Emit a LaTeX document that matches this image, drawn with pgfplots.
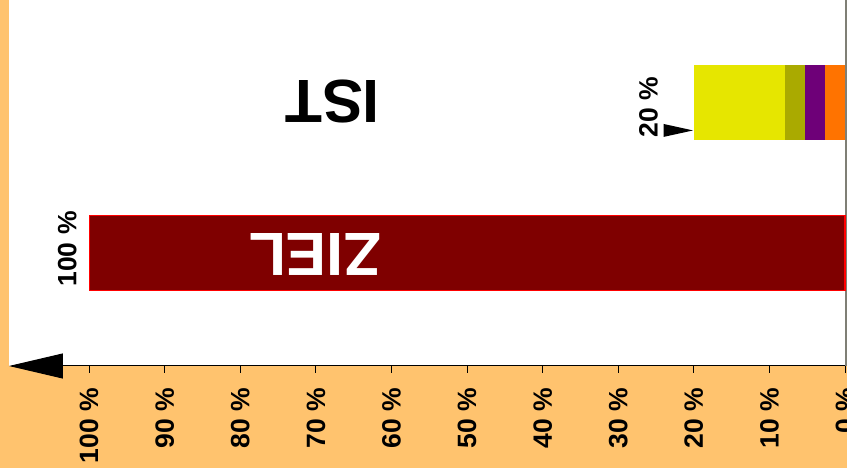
\documentclass[border=0pt]{standalone}
\usepackage{fontspec}
\setmainfont{Liberation Sans}
\usepackage{pgfplots}
\pgfplotsset{compat=1.18}
\usetikzlibrary{arrows.meta}
\definecolor{bgorange}{HTML}{FFC36E}
\definecolor{zielred}{HTML}{7F0000}
\definecolor{istorange}{HTML}{FF7300}
\definecolor{istpurple}{HTML}{6E0078}
\definecolor{istolive}{HTML}{AAAA00}
\definecolor{istyellow}{HTML}{E6E600}
\definecolor{bordergray}{HTML}{7F7F75}
\begin{document}
\begin{tikzpicture}
\useasboundingbox (0,0) rectangle (847pt,468pt);
\fill[bgorange] (0,0) rectangle (847pt,468pt);
\begin{axis}[
  at={(9pt,102pt)}, anchor=south west,
  scale only axis, width=836pt, height=366pt,
  xmin=0, xmax=110.6, ymin=0.25, ymax=2.68,
  x dir=reverse,
  xbar stacked, bar width=75pt,
  axis x line*=bottom, axis y line=none,
  x axis line style={line width=1pt, -{Triangle[length=54pt,width=25pt]}},
  axis background/.style={fill=white},
  xtick={0,10,...,100}, ytick=\empty,
  tick align=outside, major tick length=7pt,
  tick style={black, line width=0.8pt},
  /pgf/number format/assume math mode=true,
  xticklabel={\pgfmathprintnumber{\tick}~\%},
  xticklabel shift=15pt,
  xticklabel style={rotate=90, anchor=east, inner sep=0pt,
    font=\bfseries\fontsize{26.5}{28}\selectfont},
  clip=false,
]
\addplot[fill=zielred, draw=red, line width=1.2pt] coordinates {(100,1) (0,2)};
\addplot[fill=istorange, draw=none] coordinates {(0,1) (2.6,2)};
\addplot[fill=istpurple, draw=none] coordinates {(0,1) (2.7,2)};
\addplot[fill=istolive, draw=none] coordinates {(0,1) (2.7,2)};
\addplot[fill=istyellow, draw=none] coordinates {(0,1) (12.0,2)};
\draw[bordergray, line width=2pt] (axis cs:-0.1,0.25) -- (axis cs:-0.1,2.68);
\coordinate (istpos) at (axis cs:67.8,2.007);
\coordinate (zielpos) at (axis cs:70.1,0.99);
\coordinate (istlab) at (axis cs:26,1.967);
\coordinate (ziellab) at (axis cs:102.9,1.027);
\fill[black] (axis cs:24,1.857) -- (axis cs:20.1,1.814) -- (axis cs:24,1.771) -- cycle;
\end{axis}
\node[rotate=180, font=\bfseries\fontsize{61}{61}\selectfont, inner sep=0pt] at (istpos) {IST};
\node[rotate=180, text=white, font=\bfseries\fontsize{61}{61}\selectfont, inner sep=0pt] at (zielpos) {ZIEL};
\node[rotate=90, font=\bfseries\fontsize{26.5}{27}\selectfont, inner sep=0pt] at (istlab) {20 \%};
\node[rotate=90, font=\bfseries\fontsize{26.5}{27}\selectfont, inner sep=0pt] at (ziellab) {100 \%};
\end{tikzpicture}
\end{document}
